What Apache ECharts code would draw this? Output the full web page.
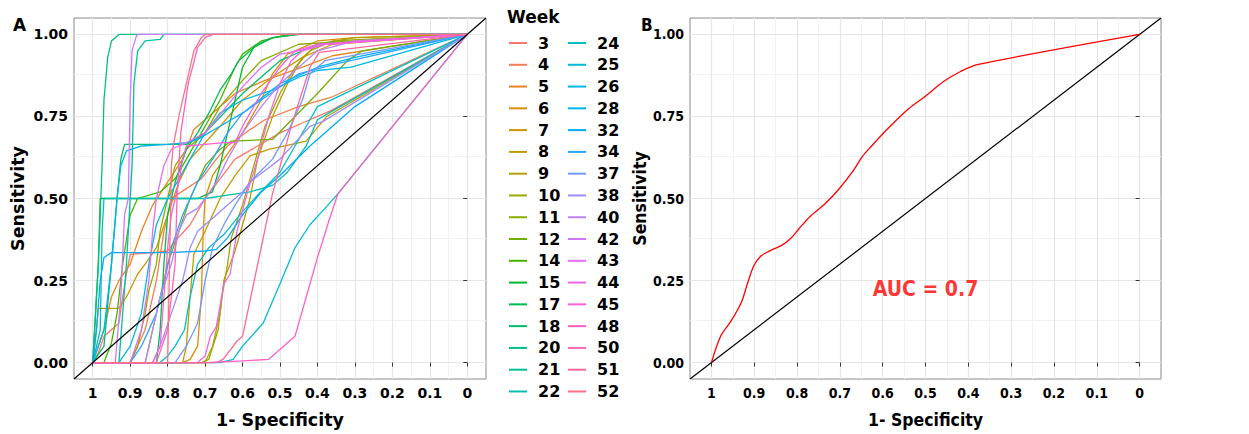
<!DOCTYPE html>
<html>
<head>
<meta charset="utf-8">
<script src="https://cdn.jsdelivr.net/npm/echarts@6/dist/echarts.min.js"></script>
<style>
html,body{margin:0;padding:0;background:#fff;}
#chart{width:1249px;height:434px;}
</style>
</head>
<body>
<div id="chart"></div>
<script>
// ---------- data ----------
const weeks = [3,4,5,6,7,8,9,10,11,12,14,15,17,18,20,21,22,24,25,26,28,32,34,37,38,40,42,43,44,45,48,50,51,52];
const xTicks = [1,0.9,0.8,0.7,0.6,0.5,0.4,0.3,0.2,0.1,0];
const xMinor = [0.95,0.85,0.75,0.65,0.55,0.45,0.35,0.25,0.15,0.05];
const yTicks = [0,0.25,0.5,0.75,1];
const yMinor = [0.125,0.375,0.625,0.875];
const diagonal = [[1.05,-0.05],[-0.05,1.05]];

// ROC curves per week: [specificity, sensitivity]
const w3 = [[1,0],[0.985,0.03],[0.97,0.08],[0.95,0.1],[0.93,0.12],[0.92,0.2],[0.91,0.27],[0.9,0.33],[0.84,0.335],[0.8,0.34],[0.78,0.37],[0.74,0.42],[0.7,0.5],[0.66,0.56],[0.62,0.62],[0.56,0.66],[0.5,0.7],[0.44,0.73],[0.36,0.77],[0,1]];
const w4 = [[1,0],[0.9,0],[0.86,0.1],[0.83,0.25],[0.81,0.4],[0.79,0.5],[0.75,0.53],[0.71,0.56],[0.67,0.62],[0.64,0.66],[0.58,0.71],[0.54,0.74],[0.45,0.78],[0.36,0.81],[0,1]];
const w5 = [[1,0],[0.97,0.1],[0.95,0.2],[0.93,0.25],[0.9,0.3],[0.87,0.4],[0.84,0.48],[0.8,0.55],[0.76,0.62],[0.73,0.71],[0.68,0.76],[0.62,0.82],[0.54,0.86],[0.44,0.9],[0.36,0.935],[0,1]];
const w6 = [[1,0],[0.76,0],[0.74,0.01],[0.72,0.05],[0.71,0.2],[0.705,0.4],[0.7,0.5],[0.68,0.57],[0.65,0.62],[0.6,0.7],[0.55,0.8],[0.52,0.88],[0.48,0.94],[0.4,0.98],[0.3,0.99],[0,1]];
const w7 = [[1,0],[0.99,0.1],[0.985,0.165],[0.93,0.165],[0.91,0.2],[0.88,0.27],[0.86,0.3],[0.83,0.35],[0.8,0.45],[0.77,0.55],[0.74,0.62],[0.7,0.67],[0.66,0.72],[0.6,0.8],[0.52,0.87],[0.44,0.93],[0.36,0.97],[0,1]];
const w8 = [[1,0],[0.76,0],[0.75,0.05],[0.74,0.2],[0.73,0.33],[0.7,0.4],[0.66,0.5],[0.62,0.57],[0.58,0.63],[0.53,0.65],[0.43,0.675],[0.375,0.75],[0,1]];
const w9 = [[1,0],[0.7,0],[0.68,0.05],[0.66,0.15],[0.65,0.25],[0.62,0.34],[0.6,0.42],[0.58,0.5],[0.56,0.62],[0.52,0.75],[0.48,0.85],[0.44,0.93],[0.4,0.97],[0.3,0.99],[0,1]];
const w10 = [[1,0],[0.71,0],[0.69,0.01],[0.665,0.1],[0.655,0.2],[0.64,0.3],[0.63,0.38],[0.6,0.48],[0.57,0.6],[0.54,0.72],[0.5,0.82],[0.46,0.9],[0.42,0.95],[0.36,0.98],[0,1]];
const w11 = [[1,0],[0.9,0],[0.88,0.05],[0.86,0.15],[0.85,0.22],[0.83,0.3],[0.82,0.4],[0.8,0.5],[0.78,0.6],[0.75,0.65],[0.7,0.7],[0.66,0.78],[0.6,0.86],[0.55,0.92],[0.45,0.97],[0,1]];
const w12 = [[1,0],[0.86,0],[0.84,0.1],[0.82,0.2],[0.8,0.3],[0.77,0.4],[0.74,0.5],[0.7,0.6],[0.66,0.65],[0.63,0.675],[0.52,0.68],[0.46,0.75],[0.4,0.82],[0.32,0.92],[0.28,0.95],[0,1]];
const w14 = [[1,0],[0.97,0],[0.95,0.06],[0.935,0.15],[0.92,0.3],[0.9,0.45],[0.88,0.5],[0.82,0.52],[0.78,0.56],[0.74,0.64],[0.7,0.72],[0.66,0.8],[0.62,0.9],[0.6,0.94],[0.55,0.98],[0.48,1],[0,1]];
const w15 = [[1,0],[0.985,0.3],[0.98,0.5],[0.9,0.5],[0.8,0.5],[0.72,0.5],[0.68,0.52],[0.66,0.6],[0.64,0.7],[0.62,0.8],[0.6,0.9],[0.57,0.96],[0.52,0.99],[0.45,1],[0,1]];
const w17 = [[1,0],[0.83,0],[0.82,0.1],[0.81,0.3],[0.8,0.45],[0.78,0.55],[0.75,0.65],[0.72,0.7],[0.69,0.76],[0.66,0.83],[0.63,0.88],[0.61,0.92],[0.56,0.97],[0.52,0.99],[0.45,1],[0,1]];
const w18 = [[1,0],[0.97,0.05],[0.95,0.3],[0.935,0.5],[0.925,0.62],[0.915,0.665],[0.75,0.665],[0.7,0.7],[0.6,0.82],[0.5,0.92],[0.4,0.97],[0,1]];
const w20 = [[1,0],[0.985,0.3],[0.975,0.6],[0.97,0.8],[0.96,0.93],[0.95,0.98],[0.93,1],[0,1]];
const w21 = [[1,0],[0.93,0],[0.91,0.3],[0.895,0.6],[0.89,0.85],[0.88,0.95],[0.86,0.98],[0.82,0.985],[0.81,1],[0,1]];
const w22 = [[1,0],[0.98,0.1],[0.975,0.4],[0.97,0.5],[0.9,0.5],[0.8,0.5],[0.7,0.5],[0.64,0.51],[0.58,0.52],[0.52,0.54],[0.48,0.58],[0.43,0.66],[0.4,0.74],[0.37,0.76],[0,1]];
const w24 = [[1,0],[0.82,0],[0.8,0.02],[0.78,0.05],[0.755,0.1],[0.74,0.2],[0.72,0.3],[0.69,0.35],[0.65,0.39],[0.6,0.46],[0.56,0.51],[0.5,0.58],[0.46,0.66],[0.42,0.74],[0.4,0.78],[0,1]];
const w25 = [[1,0],[0.66,0],[0.625,0.01],[0.6,0.05],[0.545,0.12],[0.5,0.24],[0.46,0.35],[0.42,0.42],[0.38,0.47],[0.345,0.515],[0,1]];
const w26 = [[1,0],[0.93,0],[0.9,0.05],[0.87,0.15],[0.85,0.3],[0.83,0.42],[0.8,0.5],[0.77,0.56],[0.74,0.62],[0.7,0.7],[0.66,0.76],[0.6,0.8],[0.52,0.83],[0.45,0.87],[0.4,0.89],[0.31,0.9],[0,1]];
const w28 = [[1,0],[0.97,0.1],[0.95,0.3],[0.935,0.5],[0.925,0.6],[0.91,0.645],[0.87,0.66],[0.8,0.665],[0.75,0.67],[0.72,0.68],[0.66,0.72],[0.6,0.76],[0.5,0.85],[0.4,0.9],[0.3,0.93],[0,1]];
const w32 = [[1,0],[0.99,0.1],[0.98,0.25],[0.97,0.32],[0.95,0.335],[0.8,0.335],[0.7,0.34],[0.67,0.345],[0.64,0.38],[0.6,0.45],[0.55,0.52],[0.5,0.57],[0.42,0.66],[0.35,0.73],[0.3,0.78],[0,1]];
const w34 = [[1,0],[0.9,0],[0.87,0.05],[0.85,0.1],[0.83,0.15],[0.81,0.24],[0.79,0.35],[0.76,0.45],[0.72,0.55],[0.68,0.62],[0.64,0.7],[0.6,0.76],[0.55,0.8],[0.5,0.84],[0.45,0.88],[0.35,0.91],[0,1]];
const w37 = [[1,0],[0.78,0],[0.75,0.05],[0.72,0.12],[0.7,0.25],[0.68,0.35],[0.65,0.42],[0.62,0.48],[0.58,0.55],[0.52,0.62],[0.48,0.7],[0.44,0.8],[0.42,0.88],[0.38,0.92],[0,1]];
const w38 = [[1,0],[0.84,0],[0.82,0.05],[0.79,0.15],[0.76,0.25],[0.74,0.35],[0.72,0.4],[0.68,0.44],[0.64,0.48],[0.6,0.52],[0.58,0.55],[0.5,0.62],[0.42,0.72],[0.385,0.735],[0,1]];
const w40 = [[1,0],[0.86,0],[0.84,0.1],[0.82,0.2],[0.79,0.3],[0.77,0.4],[0.75,0.45],[0.72,0.47],[0.7,0.5],[0.67,0.55],[0.64,0.62],[0.6,0.7],[0.55,0.78],[0.5,0.85],[0.45,0.9],[0.4,0.95],[0.3,0.98],[0,1]];
const w42 = [[1,0],[0.94,0],[0.925,0.2],[0.915,0.45],[0.905,0.5],[0.9,0.8],[0.895,0.95],[0.885,0.99],[0.88,1],[0,1]];
const w43 = [[1,0],[0.9,0],[0.87,0.1],[0.85,0.25],[0.84,0.4],[0.83,0.5],[0.81,0.6],[0.79,0.65],[0.75,0.67],[0.7,0.7],[0.65,0.77],[0.6,0.84],[0.55,0.9],[0.5,0.94],[0.45,0.95],[0.38,0.97],[0,1]];
const w44 = [[1,0],[0.72,0],[0.7,0.02],[0.686,0.08],[0.67,0.11],[0.65,0.24],[0.633,0.27],[0.615,0.4],[0.588,0.515],[0.56,0.62],[0.53,0.75],[0.5,0.85],[0.47,0.92],[0.44,0.95],[0.38,0.97],[0,1]];
const w45 = [[1,0],[0.84,0],[0.82,0.05],[0.81,0.2],[0.8,0.35],[0.79,0.45],[0.78,0.5],[0.77,0.55],[0.76,0.62],[0.75,0.66],[0.7,0.665],[0.65,0.67],[0.62,0.67],[0.6,0.72],[0.55,0.82],[0.5,0.9],[0.46,0.95],[0.4,0.97],[0,1]];
const w48 = [[1,0],[0.7,0],[0.6,0.005],[0.53,0.01],[0.46,0.08],[0.43,0.2],[0.4,0.32],[0.37,0.43],[0.345,0.515],[0,1]];
const w50 = [[1,0],[0.83,0],[0.8,0.1],[0.78,0.3],[0.775,0.5],[0.765,0.7],[0.745,0.85],[0.72,0.96],[0.7,0.99],[0.68,1],[0,1]];
const w51 = [[1,0],[0.67,0],[0.652,0.01],[0.615,0.065],[0.6,0.08],[0.52,0.515],[0.47,0.72],[0.42,0.9],[0.395,0.945],[0,1]];
const w52 = [[1,0],[0.8,0],[0.795,0.3],[0.79,0.6],[0.785,0.66],[0.77,0.75],[0.75,0.85],[0.73,0.95],[0.71,0.99],[0.7,1],[0,1]];
const weekCurves = [w3,w4,w5,w6,w7,w8,w9,w10,w11,w12,w14,w15,w17,w18,w20,w21,w22,w24,w25,w26,w28,w32,w34,w37,w38,w40,w42,w43,w44,w45,w48,w50,w51,w52];

// Combined ROC (panel B)
const combinedRoc = [[1,0],[0.979,0.079],[0.956,0.123],[0.94,0.158],[0.928,0.19],[0.916,0.24],[0.901,0.295],[0.885,0.324],[0.866,0.339],[0.835,0.358],[0.815,0.378],[0.796,0.407],[0.769,0.446],[0.734,0.485],[0.702,0.529],[0.667,0.588],[0.648,0.627],[0.628,0.657],[0.59,0.71],[0.539,0.774],[0.504,0.808],[0.457,0.857],[0.418,0.887],[0.379,0.908],[0,1]];
const aucText = 'AUC = 0.7';
const aucPos = [0.5, 0.25];

// ---------- ggplot hue palette ----------
function hcl(h, c, l) {
  const hr = h * Math.PI / 180;
  const U = c * Math.cos(hr), V = c * Math.sin(hr);
  const Xn = 95.047, Yn = 100, Zn = 108.883;
  const den = Xn + 15 * Yn + 3 * Zn;
  const un = 4 * Xn / den, vn = 9 * Yn / den;
  const Y = l > 8 ? Yn * Math.pow((l + 16) / 116, 3) : Yn * l / 903.3;
  const u = U / (13 * l) + un, v = V / (13 * l) + vn;
  const X = 9 * Y * u / (4 * v);
  const Z = -X / 3 - 5 * Y + 3 * Y / v;
  const x = X / 100, y = Y / 100, z = Z / 100;
  const lin = [3.2404542 * x - 1.5371385 * y - 0.4985314 * z,
               -0.9692660 * x + 1.8760108 * y + 0.0415560 * z,
               0.0556434 * x - 0.2040259 * y + 1.0572252 * z];
  return '#' + lin.map(t => {
    let g = t <= 0.0031308 ? 12.92 * t : 1.055 * Math.pow(t, 1 / 2.4) - 0.055;
    g = Math.max(0, Math.min(1, g));
    return Math.round(g * 255).toString(16).padStart(2, '0');
  }).join('');
}
const n = weeks.length;
const palette = weeks.map((w, i) => hcl(15 + 360 * i / n, 100, 65));

// ---------- chart ----------
const FONT = 'DejaVu Sans';
const FONTB = 'DejaVu Sans Condensed';

function gridLines(idx) {
  const d = [];
  xMinor.forEach(v => d.push({xAxis: v, lineStyle: {color: '#f2f2f2', width: 1, type: 'solid'}}));
  yMinor.forEach(v => d.push({yAxis: v, lineStyle: {color: '#f2f2f2', width: 1, type: 'solid'}}));
  xTicks.forEach(v => d.push({xAxis: v, lineStyle: {color: '#e6e6e6', width: 1.2, type: 'solid'}}));
  yTicks.forEach(v => d.push({yAxis: v, lineStyle: {color: '#e6e6e6', width: 1.2, type: 'solid'}}));
  return {
    type: 'line', xAxisIndex: idx, yAxisIndex: idx, data: [], silent: true, z: 0,
    markLine: {silent: true, z: 0, symbol: ['none', 'none'], label: {show: false}, animation: false,
      emphasis: {disabled: true}, data: d}
  };
}

function xAxisFor(idx, fam, fs, ns) {
  return {
    type: 'value', gridIndex: idx, inverse: true, min: -0.05, max: 1.05,
    axisLine: {show: false},
    axisTick: {show: true, customValues: xTicks, length: 4, lineStyle: {color: '#333', width: 1}},
    axisLabel: {show: true, customValues: xTicks, margin: 7, color: '#000', fontWeight: 'bold',
      fontFamily: fam, fontSize: fs,
      formatter: v => (Math.abs(v - 1) < 1e-9 ? '1' : Math.abs(v) < 1e-9 ? '0' : v.toFixed(1))},
    splitLine: {show: false},
    name: '1- Specificity', nameLocation: 'middle', nameGap: 32,
    nameTextStyle: {fontWeight: 'bold', fontSize: ns, fontFamily: fam, color: '#000'}
  };
}
function yAxisFor(idx, fam, fs, ns, gap) {
  return {
    type: 'value', gridIndex: idx, min: -0.05, max: 1.05,
    axisLine: {show: false},
    axisTick: {show: true, customValues: yTicks, length: 4, lineStyle: {color: '#333', width: 1}},
    axisLabel: {show: true, customValues: yTicks, margin: 6, color: '#000', fontWeight: 'bold',
      fontFamily: fam, fontSize: fs, formatter: v => v.toFixed(2)},
    splitLine: {show: false},
    name: 'Sensitivity', nameLocation: 'middle', nameGap: gap, nameRotate: 90,
    nameTextStyle: {fontWeight: 'bold', fontSize: ns, fontFamily: fam, color: '#000'}
  };
}

const series = [gridLines(0), gridLines(1)];
weeks.forEach((w, i) => {
  series.push({
    name: String(w), type: 'line', xAxisIndex: 0, yAxisIndex: 0, data: weekCurves[i],
    showSymbol: false, symbol: 'none', color: palette[i], z: 2,
    lineStyle: {width: 1.3, color: palette[i]}, animation: false, silent: true
  });
});
series.push({type: 'line', xAxisIndex: 0, yAxisIndex: 0, data: diagonal, symbol: 'none', z: 3,
  lineStyle: {color: '#000', width: 1.2}, animation: false, silent: true});
series.push({type: 'line', xAxisIndex: 1, yAxisIndex: 1, data: diagonal, symbol: 'none', z: 3,
  lineStyle: {color: '#000', width: 1.2}, animation: false, silent: true});
series.push({type: 'line', xAxisIndex: 1, yAxisIndex: 1, data: combinedRoc, symbol: 'none', z: 4,
  smooth: 0.3, lineStyle: {color: '#ff0000', width: 1.3}, animation: false, silent: true});
series.push({type: 'scatter', xAxisIndex: 1, yAxisIndex: 1, data: [aucPos], symbolSize: 0, z: 5,
  silent: true, animation: false,
  label: {show: true, position: 'inside', offset: [0, 8], formatter: aucText, color: '#ff0000', fontWeight: 'bold',
    fontSize: 21, fontFamily: FONTB}});

const legendCommon = {
  orient: 'vertical', icon: 'rect', itemWidth: 18, itemHeight: 2, itemGap: 3.78,
  selectedMode: false, padding: 0,
  textStyle: {fontFamily: FONT, fontWeight: 'bold', fontSize: 16, color: '#000', lineHeight: 18,
    padding: [0, 0, 0, 6]}
};

const option = {
  backgroundColor: '#fff',
  animation: false,
  title: [
    {text: 'A', left: 13, top: 16, padding: 0, textStyle: {fontFamily: FONT, fontWeight: 'bold', fontSize: 17, color: '#000'}},
    {text: 'B', left: 641, top: 16, padding: 0, textStyle: {fontFamily: FONTB, fontWeight: 'bold', fontSize: 17, color: '#000'}},
    {text: 'Week', left: 507, top: 8, padding: 0, textStyle: {fontFamily: FONT, fontWeight: 'bold', fontSize: 17, color: '#000'}}
  ],
  legend: [
    Object.assign({}, legendCommon, {data: weeks.slice(0, 17).map(String), left: 509, top: 34}),
    Object.assign({}, legendCommon, {data: weeks.slice(17).map(String), left: 568, top: 34})
  ],
  grid: [
    {left: 74, top: 18, width: 412, height: 374, show: true, borderColor: '#8a8a8a', borderWidth: 1, backgroundColor: '#fff', containLabel: false},
    {left: 690, top: 18, width: 471, height: 374, show: true, borderColor: '#8a8a8a', borderWidth: 1, backgroundColor: '#fff', containLabel: false}
  ],
  xAxis: [xAxisFor(0, FONT, 14, 17.5), xAxisFor(1, FONTB, 14, 17.5)],
  yAxis: [yAxisFor(0, FONT, 14, 17.5, 47), yAxisFor(1, FONTB, 14, 17.5, 37)],
  series: series
};

const chart = echarts.init(document.getElementById('chart'), null, {renderer: 'svg', width: 1249, height: 434});
chart.setOption(option);
</script>
</body>
</html>
